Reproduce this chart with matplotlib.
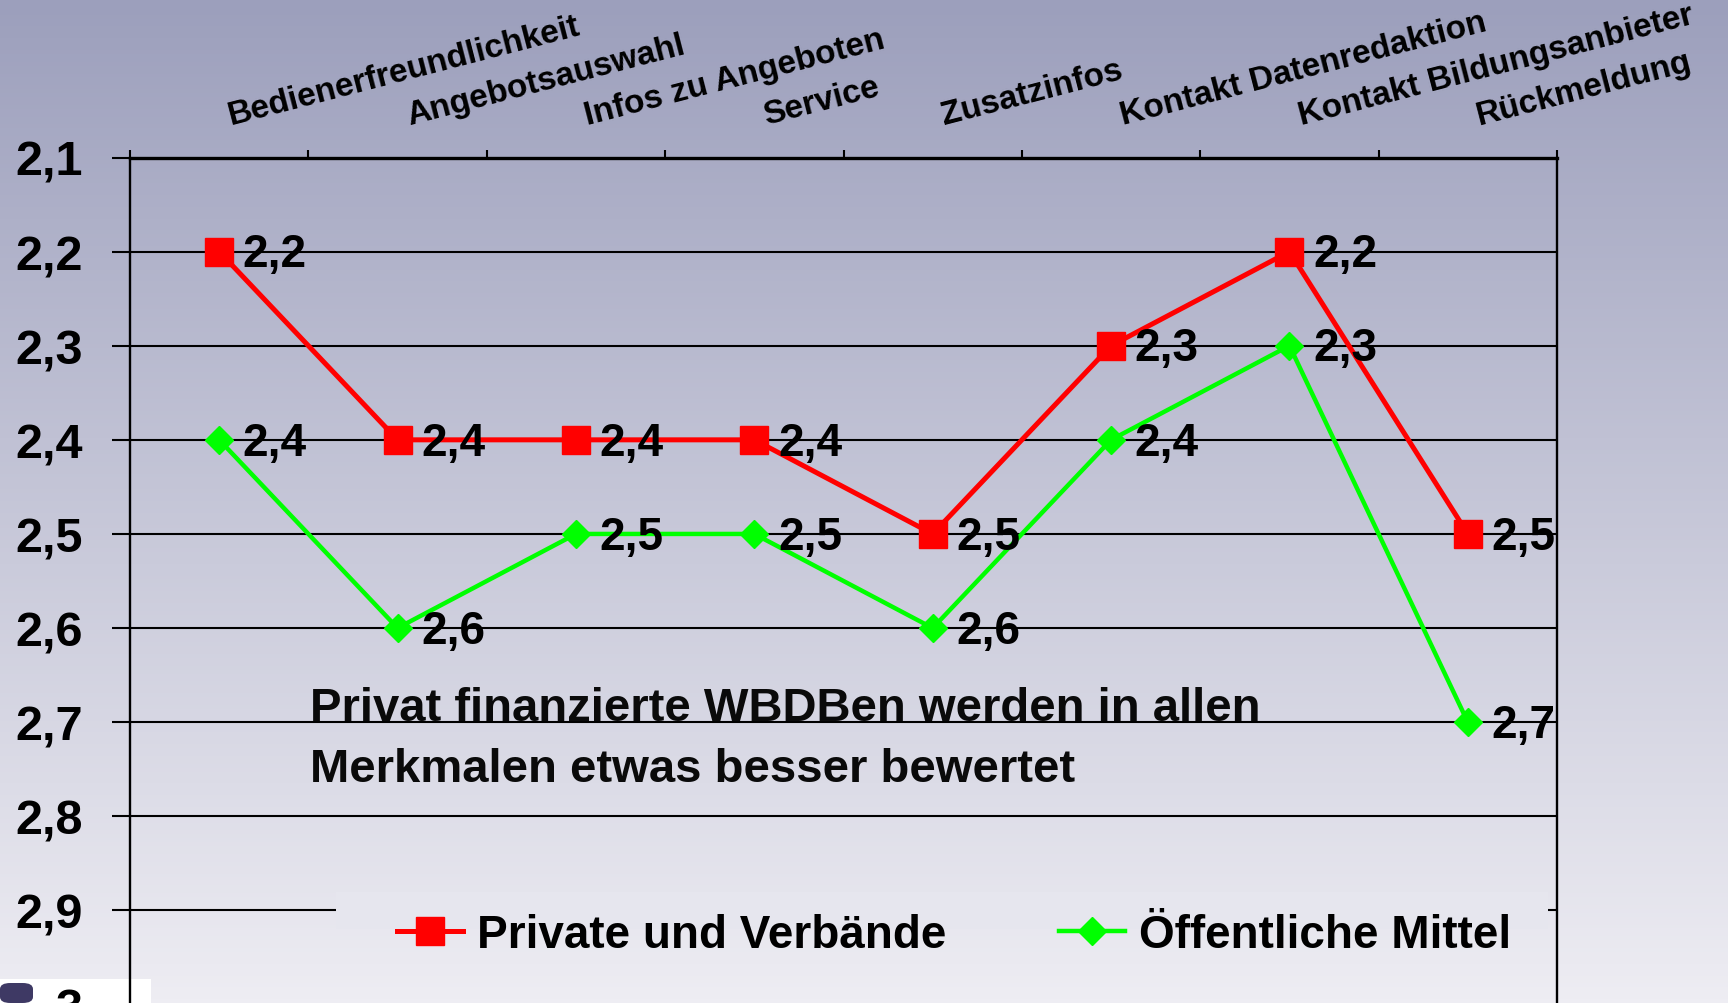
import matplotlib.pyplot as plt
import numpy as np
from matplotlib.patches import Rectangle, FancyBboxPatch

# ================= DATA =================
categories = ["Bedienerfreundlichkeit", "Angebotsauswahl", "Infos zu Angeboten",
              "Service", "Zusatzinfos", "Kontakt Datenredaktion",
              "Kontakt Bildungsanbieter", "Rückmeldung"]
private = [2.2, 2.4, 2.4, 2.4, 2.5, 2.3, 2.2, 2.5]
public = [2.4, 2.6, 2.5, 2.5, 2.6, 2.4, 2.3, 2.7]
series_names = ["Private und Verbände", "Öffentliche Mittel"]
y_ticks = [2.1, 2.2, 2.3, 2.4, 2.5, 2.6, 2.7, 2.8, 2.9, 3.0]
y_labels = ["2,1", "2,2", "2,3", "2,4", "2,5", "2,6", "2,7", "2,8", "2,9", "3"]
note = "Privat finanzierte WBDBen werden in allen\nMerkmalen etwas besser bewertet"
# =========================================

plt.rcParams['font.family'] = ['Liberation Sans', 'DejaVu Sans']

BG_TOP = np.array([156, 159, 188]) / 255
BG_BOT = np.array([238, 237, 243]) / 255

W, H = 1728, 1004
fig = plt.figure(figsize=(W / 100, H / 100), dpi=100)

# background gradient over the whole slide
bg = fig.add_axes([0, 0, 1, 1], zorder=-10)
t = np.linspace(0, 1, 256)[:, None]
grad = BG_TOP[None, :] * (1 - t) + BG_BOT[None, :] * t
bg.imshow(grad[:, None, :], aspect='auto', extent=[0, 1, 0, 1])
bg.axis('off')

ax = fig.add_axes([130 / W, -1.5 / H, 1427 / W, 847 / H])
ax.patch.set_alpha(0)

x = np.arange(len(categories))
ax.plot(x, private, color='#ff0000', lw=3.6, marker='s', ms=20, mec='#ff0000',
        label=series_names[0], zorder=4)
ax.plot(x, public, color='#00ff00', lw=3.2, marker='D', ms=14, mec='#00ff00',
        label=series_names[1], zorder=4)

for xi, v in zip(x, private):
    ax.annotate(f"{v:.1f}".replace('.', ','), (xi, v), xytext=(17, -2),
                textcoords='offset points', ha='left', va='center',
                fontsize=33, fontweight='bold', zorder=6)
for xi, v in zip(x, public):
    ax.annotate(f"{v:.1f}".replace('.', ','), (xi, v), xytext=(17, -2),
                textcoords='offset points', ha='left', va='center',
                fontsize=33, fontweight='bold', zorder=6)

ax.set_xlim(-0.5, len(categories) - 0.5)
ax.set_ylim(3.0, 2.1)

# grid lines
for yv in y_ticks[1:-1]:
    ax.axhline(yv, color='black', lw=1.5, zorder=1)

ax.set_yticks(y_ticks)
ax.set_yticklabels(y_labels, fontsize=35, fontweight='bold')
ax.tick_params(axis='y', direction='out', length=13, width=1.5, pad=21)

# x: boundary ticks on top, category names as rotated labels
ax.xaxis.tick_top()
ax.set_xticks(np.arange(-0.5, len(categories), 1.0))
ax.set_xticklabels([])
ax.tick_params(axis='x', which='major', direction='out', length=6, width=1.5)
ax.set_xticks(x + 0.075, minor=True)
ax.set_xticklabels(categories, minor=True, rotation=14.5, ha='left',
                   rotation_mode='anchor', fontsize=24, fontweight='bold')
ax.tick_params(axis='x', which='minor', length=0, pad=19, top=True, labeltop=True)

for s in ['left', 'right']:
    ax.spines[s].set_linewidth(1.7)
ax.spines['top'].set_linewidth(2.4)
ax.spines['bottom'].set_visible(False)

ax.text(180 / 1427, 2.762, note, fontsize=34, fontweight='bold',
        color='#0a0a0a', ha='left', va='baseline', linespacing=1.48,
        transform=ax.get_yaxis_transform(), zorder=5)

# legend area hides the lowest gridline
tc = 911 / H
cover = BG_TOP * (1 - tc) + BG_BOT * tc
ax.add_patch(Rectangle((206 / 1427, 2.88), 1212 / 1427, 0.04,
                       transform=ax.get_yaxis_transform(),
                       facecolor=cover, edgecolor='none', zorder=3))
ax.legend(loc='center left', bbox_to_anchor=(0.1745, 0.082), ncol=2, frameon=False,
          prop={'size': 33, 'weight': 'bold'}, handlelength=1.44, handletextpad=0.29,
          columnspacing=2.47, borderpad=0.4, borderaxespad=0)

# slide artefact at bottom left
fig.add_artist(Rectangle((0, 0), 151 / W, 24 / H, transform=fig.transFigure,
                         facecolor='white', edgecolor='none', zorder=-1))
fig.add_artist(FancyBboxPatch((0, 0), 33 / W, 20 / H,
                              boxstyle='round,pad=0,rounding_size=0.006',
                              transform=fig.transFigure, facecolor='#3e3964',
                              edgecolor='none', zorder=-1))

fig.savefig("out.png", dpi=100)
